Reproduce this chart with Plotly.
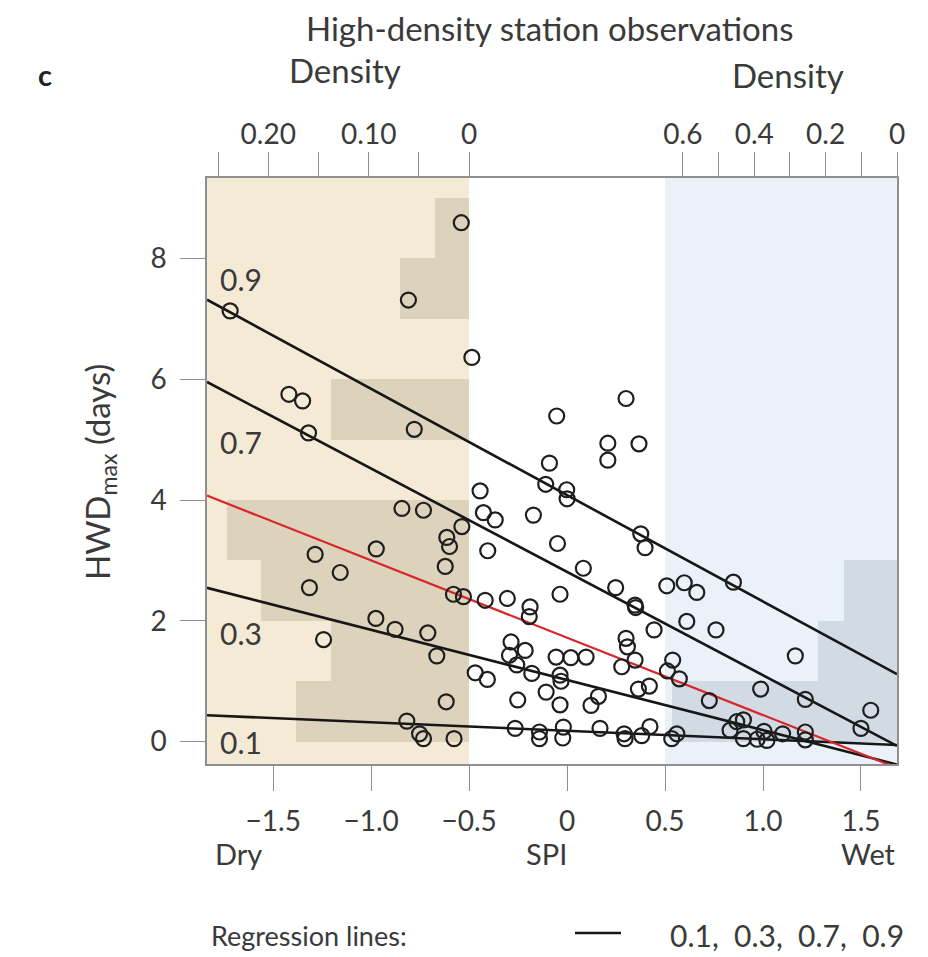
import plotly.graph_objects as go

# ---------------- data ----------------
spi = [
    # dry side (SPI < -0.5)
    -1.72, -0.54, -0.81, -1.42, -1.35, -1.32, -0.78, -0.843, -0.733, -0.537,
    -0.614, -0.60, -0.974, -1.286, -1.158, -0.622, -1.315, -0.58, -0.529, -0.976,
    -0.878, -0.711, -1.243, -0.665, -0.617, -0.818, -0.753, -0.733, -0.577,
    # middle
    -0.486, 0.301, -0.053, 0.208, 0.208, 0.367, -0.09, -0.109, -0.002, 0.0,
    -0.444, -0.427, -0.367, -0.172, -0.405, -0.049, 0.083, 0.376, 0.398, 0.248,
    0.347, 0.35, 0.444, -0.036, -0.418, -0.305, -0.189, -0.193, -0.286, -0.214,
    -0.294, -0.257, -0.18, -0.056, 0.019, 0.097, -0.036, -0.031, -0.469, -0.407,
    -0.107, -0.252, -0.036, 0.16, 0.122, 0.301, 0.308, 0.347, 0.279, 0.364,
    0.42, -0.265, -0.141, -0.141, -0.019, -0.022, 0.168, 0.291, 0.296, 0.381,
    0.423,
    # wet side (SPI > 0.5)
    0.509, 0.598, 0.662, 0.849, 0.611, 0.76, 1.165, 0.539, 0.512, 0.573,
    0.726, 0.988, 1.216, 0.534, 0.56, 0.832, 0.866, 0.90, 0.90, 0.97,
    1.005, 1.02, 1.10, 1.216, 1.216, 1.50, 1.55,
]
hwd = [
    7.13, 8.59, 7.31, 5.75, 5.64, 5.11, 5.17, 3.86, 3.83, 3.56,
    3.38, 3.23, 3.19, 3.10, 2.80, 2.90, 2.55, 2.44, 2.40, 2.04,
    1.86, 1.80, 1.69, 1.42, 0.66, 0.34, 0.13, 0.05, 0.05,
    6.36, 5.68, 5.39, 4.94, 4.66, 4.93, 4.61, 4.26, 4.17, 4.02,
    4.15, 3.79, 3.67, 3.75, 3.16, 3.28, 2.87, 3.44, 3.21, 2.55,
    2.26, 2.22, 1.85, 2.44, 2.34, 2.37, 2.23, 2.07, 1.65, 1.51,
    1.43, 1.27, 1.13, 1.40, 1.39, 1.40, 1.10, 1.00, 1.14, 1.03,
    0.82, 0.69, 0.61, 0.75, 0.60, 1.71, 1.57, 1.35, 1.24, 0.87,
    0.92, 0.22, 0.16, 0.05, 0.24, 0.06, 0.22, 0.13, 0.05, 0.10,
    0.25,
    2.58, 2.63, 2.47, 2.64, 1.99, 1.85, 1.42, 1.35, 1.17, 1.04,
    0.68, 0.87, 0.70, 0.05, 0.13, 0.19, 0.33, 0.36, 0.05, 0.04,
    0.17, 0.02, 0.13, 0.16, 0.03, 0.22, 0.52,
]

quantile_labels = ["0.1", "0.3", "0.7", "0.9"]
quantile_intercepts = [0.18, 1.02, 2.81, 4.08]
quantile_slopes = [-0.14, -0.83, -1.71, -1.76]
quantile_label_y = [0.0, 1.8, 4.96, 7.65]
mean_intercept = 1.72
mean_slope = -1.28

spi_ticks = [-1.5, -1.0, -0.5, 0, 0.5, 1.0, 1.5]
spi_ticktext = ["\u22121.5", "\u22121.0", "\u22120.5", "0", "0.5", "1.0", "1.5"]
hwd_ticks = [0, 2, 4, 6, 8]
dry_density_ticks = [0.20, 0.10, 0]
dry_density_text = ["0.20", "0.10", "0"]
dry_density_minor = [0.25, 0.15, 0.05]
wet_density_ticks = [0.6, 0.4, 0.2, 0]
wet_density_text = ["0.6", "0.4", "0.2", "0"]
wet_density_minor = [0.5, 0.3, 0.1]

DRY_LIMIT = -0.5
WET_LIMIT = 0.5

# ---------------- layout geometry (page pixels) ----------------
PAGE_OFF = 8                      # default body margin of the html page
W, H = 928 - PAGE_OFF, 957 - PAGE_OFF
L, R, T, B = 207, 897, 178, 764   # plot area in page pixels
XR = [-1.838, 1.684]
YR = [-0.37, 9.33]
DRY_DMAX = 0.261
WET_DMAX = 0.65

FONT = "Lato"
TXT = "#3a3a3a"
GRAY = "#8f8f8f"
TAN = "#f5ead5"
TAN_BAR = "#ddd2bc"
BLUE = "#eaf1f9"
BLUE_BAR = "#d2dae3"


def px(x):
    return (x - L) / (R - L)


def py(y):
    return (B - y) / (B - T)


f_dry = (DRY_LIMIT - XR[0]) / (XR[1] - XR[0])
f_wet = (WET_LIMIT - XR[0]) / (XR[1] - XR[0])

dry_hwd = [h for s, h in zip(spi, hwd) if s < DRY_LIMIT]
wet_hwd = [h for s, h in zip(spi, hwd) if s > WET_LIMIT]

fig = go.Figure()

# histograms of HWD for dry and wet stations
fig.add_trace(go.Histogram(
    y=dry_hwd, orientation="h", histnorm="probability density",
    ybins=dict(start=0, end=10, size=1), xaxis="x", yaxis="y",
    marker=dict(color=TAN_BAR, line=dict(width=0)), showlegend=False,
    hoverinfo="skip"))
fig.add_trace(go.Histogram(
    y=wet_hwd, orientation="h", histnorm="probability density",
    ybins=dict(start=0, end=10, size=1), xaxis="x2", yaxis="y",
    marker=dict(color=BLUE_BAR, line=dict(width=0)), showlegend=False,
    hoverinfo="skip"))

# regression lines
xline = [XR[0], XR[1]]
for a, b in zip(quantile_intercepts, quantile_slopes):
    fig.add_trace(go.Scatter(
        x=xline, y=[a + b * v for v in xline], mode="lines",
        line=dict(color="#161616", width=2.6), xaxis="x3", yaxis="y",
        showlegend=False, hoverinfo="skip"))
fig.add_trace(go.Scatter(
    x=xline, y=[mean_intercept + mean_slope * v for v in xline], mode="lines",
    line=dict(color="#d9262b", width=2.2), xaxis="x3", yaxis="y",
    showlegend=False, hoverinfo="skip"))

# station points
fig.add_trace(go.Scatter(
    x=spi, y=hwd, mode="markers", xaxis="x3", yaxis="y",
    marker=dict(symbol="circle-open", size=15, color="#1e1e1e",
                line=dict(width=2.2, color="#1e1e1e")),
    showlegend=False))

tickfont = dict(family=FONT, size=28, color=TXT)
tick_style = dict(ticks="outside", ticklen=25, tickwidth=1.2, tickcolor=GRAY)

fig.update_layout(
    width=W, height=H,
    margin=dict(l=L - PAGE_OFF, r=W - (R - PAGE_OFF), t=T - PAGE_OFF,
                b=H - (B - PAGE_OFF), pad=0),
    paper_bgcolor="white", plot_bgcolor="rgba(0,0,0,0)",
    bargap=0, barmode="overlay",
    font=dict(family=FONT, size=28, color=TXT),
    xaxis=dict(domain=[0, f_dry], range=[DRY_DMAX, 0], anchor="y", side="top",
               tickvals=dry_density_ticks, ticktext=dry_density_text,
               minor=dict(tickvals=dry_density_minor, showgrid=False, **tick_style),
               showline=False, showgrid=False, zeroline=False,
               tickfont=tickfont, ticklabelstandoff=-3, **tick_style),
    xaxis2=dict(domain=[f_wet, 1], range=[WET_DMAX, 0], anchor="y", side="top",
                tickvals=wet_density_ticks, ticktext=wet_density_text,
                minor=dict(tickvals=wet_density_minor, showgrid=False, **tick_style),
                showline=False, showgrid=False, zeroline=False,
                tickfont=tickfont, ticklabelstandoff=-3, **tick_style),
    xaxis3=dict(domain=[0, 1], range=XR, anchor="y", side="bottom",
                tickvals=spi_ticks, ticktext=spi_ticktext,
                showline=True, linecolor=GRAY, linewidth=1.5, mirror=True,
                showgrid=False, zeroline=False, tickfont=tickfont,
                ticklabelstandoff=7, **tick_style),
    yaxis=dict(domain=[0, 1], range=YR, anchor="x3", tickvals=hwd_ticks,
               showline=True, linecolor=GRAY, linewidth=1.5,
               mirror=True, showgrid=False, zeroline=False, tickfont=tickfont,
               ticklabelstandoff=8, **tick_style),
)

# shaded dry / wet regions (beneath everything)
fig.add_shape(type="rect", xref="x3", yref="paper", x0=XR[0], x1=DRY_LIMIT,
              y0=0, y1=1, fillcolor=TAN, line=dict(width=0), layer="below")
fig.add_shape(type="rect", xref="x3", yref="paper", x0=WET_LIMIT, x1=XR[1],
              y0=0, y1=1, fillcolor=BLUE, line=dict(width=0), layer="below")

# quantile labels inside the plot
for lab, yv in zip(quantile_labels, quantile_label_y):
    fig.add_annotation(x=-1.665, y=yv, xref="x3", yref="y", text=lab,
                       showarrow=False, xanchor="center", yanchor="middle",
                       font=dict(family=FONT, size=30, color=TXT))


def note(text, x, y, size=28, xanchor="center", angle=0, bold=False, color=TXT):
    fig.add_annotation(x=px(x), y=py(y), xref="paper", yref="paper",
                       text=("<b>%s</b>" % text) if bold else text,
                       showarrow=False, xanchor=xanchor, yanchor="middle",
                       textangle=angle,
                       font=dict(family=FONT, size=size, color=color))


note("c", 45, 74, size=29, bold=True, color="#222222")
note("High-density station observations", 549, 28, size=33)
note("Density", 345, 70, size=33)
note("Density", 788, 75, size=33)
note("HWD<sub>max</sub> (days)", 99, 472, size=33, angle=-90)
note("Dry", 213, 853, size=29, xanchor="left")
note("SPI", 546, 853, size=29)
note("Wet", 898, 853, size=29, xanchor="right")
note("Regression lines:", 209, 935, size=27, xanchor="left")
note("0.1,\u00a0 0.3,\u00a0 0.7,\u00a0 0.9", 906, 935, size=30, xanchor="right")

# legend swatch for the regression lines
fig.add_shape(type="line", xref="paper", yref="paper",
              x0=px(575), x1=px(621), y0=py(933), y1=py(933),
              line=dict(color="#161616", width=2.6))

fig.write_html("out.html")
